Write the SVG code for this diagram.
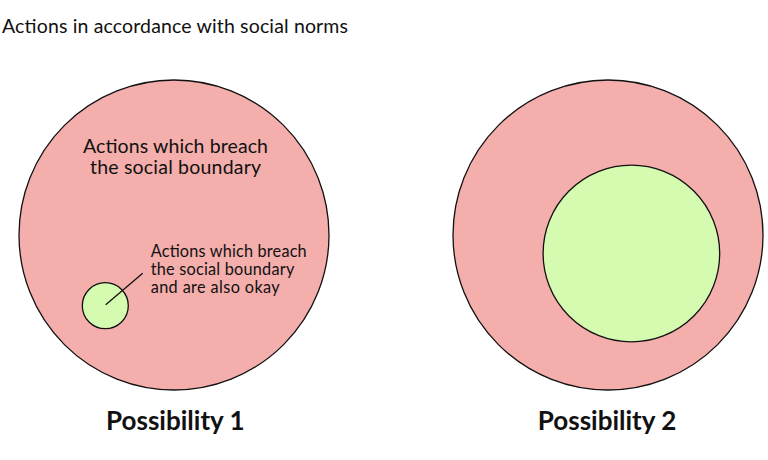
<svg xmlns="http://www.w3.org/2000/svg" width="768" height="460" viewBox="0 0 768 460">
<style>
.t{font-family:Lato,"Noto Sans","Liberation Sans",sans-serif;fill:#111}
.outer{fill:#F4AEAC;stroke:#111;stroke-width:1.3}
.inner{fill:#D5FBB1;stroke:#111;stroke-width:1.3}
.lbl{font-family:Lato,"Noto Sans","Liberation Sans",sans-serif;font-weight:bold;font-size:26px;fill:#111;text-anchor:middle}
</style>
<rect width="768" height="460" fill="#fff"/>
<text class="t" x="2" y="33" font-size="19.5" textLength="346" lengthAdjust="spacing">Actions in accordance with social norms</text>
<g id="outer1"><circle class="outer" cx="174" cy="235" r="155"/>
<text class="t" x="83" y="153" font-size="19.5" textLength="185" lengthAdjust="spacing">Actions which breach</text>
<text class="t" x="90" y="174" font-size="19.5" textLength="171" lengthAdjust="spacing">the social boundary</text></g>
<g id="inner1"><circle class="inner" cx="105.3" cy="305.7" r="23"/>
<text class="t" x="150.7" y="257" font-size="16.3" textLength="156" lengthAdjust="spacing">Actions which breach</text>
<text class="t" x="150.7" y="275" font-size="16.3" textLength="143.6" lengthAdjust="spacing">the social boundary</text>
<text class="t" x="150.7" y="293" font-size="16.3" textLength="129" lengthAdjust="spacing">and are also okay</text></g>
<g id="connectors"><line x1="105.7" y1="304.7" x2="142.7" y2="273.3" stroke="#111" stroke-width="1.3"/></g>
<g id="outer2"><circle class="outer" cx="608" cy="235" r="155"/></g>
<g id="inner2"><circle class="inner" cx="631.4" cy="253.5" r="88.3"/></g>
<g id="label1"><text class="lbl" x="175.3" y="429.5">Possibility 1</text></g>
<g id="label2"><text class="lbl" x="607" y="429.5">Possibility 2</text></g>
</svg>
